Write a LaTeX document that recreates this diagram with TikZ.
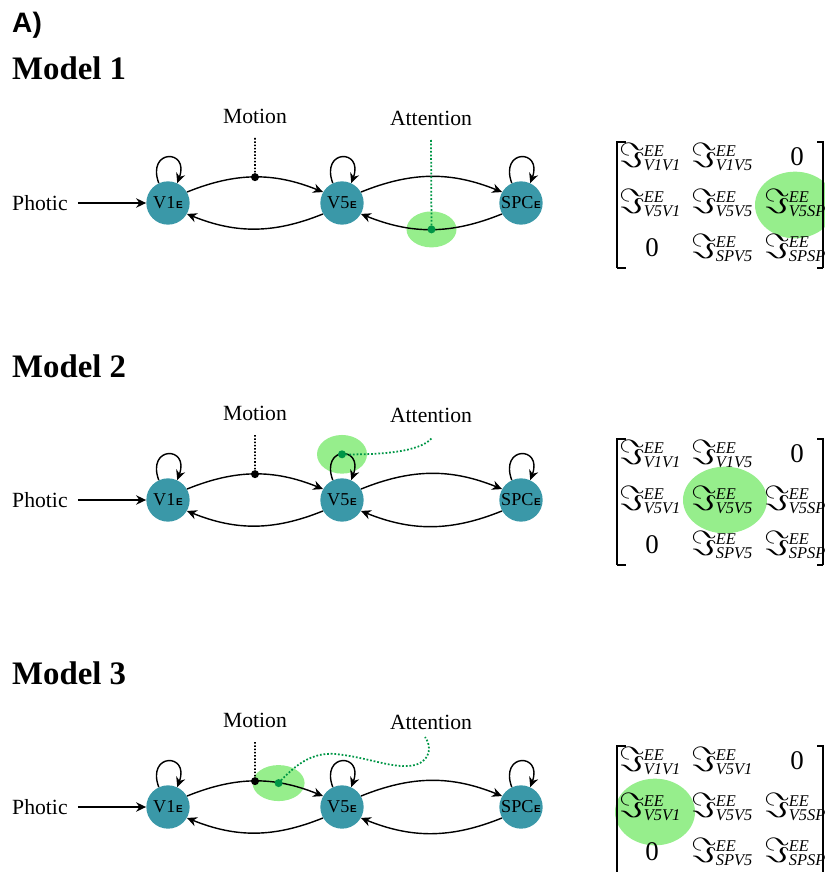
\documentclass[tikz,border=0pt]{standalone}
\usepackage{amsmath}
\usepackage{fontspec}
\setmainfont{Liberation Serif}
\setsansfont{Liberation Sans}
\usetikzlibrary{arrows.meta}
\pgfdeclarelayer{background}
\pgfsetlayers{background,main}
\definecolor{areafill}{RGB}{58,152,168}
\definecolor{glowgreen}{RGB}{150,238,140}
\definecolor{dotgreen}{RGB}{0,150,70}
\newcommand\Esub{\kern0.6pt{\sffamily\bfseries\fontsize{8.5}{8.5}\selectfont E}}
\newcommand\ssz{\fontsize{14}{14}\selectfont\itshape}
\newcommand\Ient[1]{\scalebox{1.2}{$\Im$}\kern-1pt\rlap{\raisebox{9.5pt}{\ssz EE}}\raisebox{-3pt}{\ssz #1}}
\tikzset{
 area/.style={circle,fill=areafill,minimum size=1.3cm,inner sep=0pt,font=\fontsize{15.5}{16}\selectfont},
 lab/.style={font=\fontsize{18.5}{20}\selectfont,inner sep=0pt},
 conn/.style={line width=1.2pt,-{Stealth[length=8.5pt,width=8pt]}},
 motdot/.style={line width=1.3pt,dash pattern=on 1.3pt off 1.5pt},
 attdot/.style={line width=1.5pt,dash pattern=on 1.5pt off 1.6pt,dotgreen},
 glow/.style={fill=glowgreen},
 ent/.style={inner sep=0pt,font=\fontsize{23}{26}\selectfont},
 bracket/.style={line width=1.2pt},
 modeltitle/.style={font=\bfseries\fontsize{28}{30}\selectfont,anchor=base west,inner sep=0pt}
}
\newcommand\drawnet[2]{%
\begin{scope}[shift={(0,#2)}]
\node[modeltitle] (title#1) at (12,-80) {Model #1};
\node[lab,anchor=west] (photic#1) at (12,-203) {Photic};
\node[area] (va#1) at (168,-203) {V1\Esub};
\node[area] (vb#1) at (342,-203) {V5\Esub};
\node[area] (sp#1) at (521,-203) {SPC\Esub};
\node[lab] (motion#1) at (255,-116) {Motion};
\node[lab] (attn#1) at (431,-118) {Attention};
\coordinate (mtop#1) at (255,-138);
\draw[conn,line width=1.7pt,shorten <=0.3cm] (photic#1) -- (va#1);
\draw[conn] (va#1.115) .. controls +(110:1.1cm) and +(70:1.1cm) .. (va#1.65);
\draw[conn] (vb#1.115) .. controls +(110:1.1cm) and +(70:1.1cm) .. coordinate[pos=0.5] (lpb#1) (vb#1.65);
\draw[conn] (sp#1.115) .. controls +(110:1.1cm) and +(70:1.1cm) .. (sp#1.65);
\draw[conn] (va#1.30) to[out=22,in=158] coordinate[pos=0.5] (mot#1) coordinate[pos=0.68] (up#1) (vb#1.150);
\draw[conn] (vb#1.210) to[out=202,in=-22] (va#1.330);
\draw[conn] (vb#1.30) to[out=22,in=158] (sp#1.150);
\draw[conn] (sp#1.210) to[out=202,in=-22] coordinate[pos=0.5] (low#1) (vb#1.330);
\draw[motdot] (mtop#1) -- (mot#1);
\fill (mot#1) circle[radius=0.12cm];
\end{scope}}
\newcommand\drawmat[3]{%
\begin{scope}[shift={(0,#2)}]
\node[ent] (m#1a) at (650,-157) {\Ient{V1V1}};
\node[ent] (m#1b) at (722,-157) {\Ient{#3}};
\node[ent] (m#1c) at (797,-157) {0};
\node[ent] (m#1d) at (650,-203) {\Ient{V5V1}};
\node[ent] (m#1e) at (722,-203) {\Ient{V5V5}};
\node[ent] (m#1f) at (795,-203) {\Ient{V5SP}};
\node[ent] (m#1g) at (652,-248) {0};
\node[ent] (m#1h) at (722,-248) {\Ient{SPV5}};
\node[ent] (m#1i) at (795,-248) {\Ient{SPSP}};
\draw[bracket] (626,-142) -- (617,-142) -- (617,-268);
\draw[bracket] (817,-142) -- (823,-142) -- (823,-268);
\end{scope}}
\begin{document}
\begin{tikzpicture}[x=0.03cm,y=0.03cm]
\useasboundingbox (0,0) rectangle (825,-874);
\node[font=\sffamily\bfseries\fontsize{24}{26}\selectfont,anchor=base west,inner sep=0pt] (A) at (12,-33) {A)};
% matrix highlights
\begin{pgfonlayer}{background}
\fill[glow] (795,-205) ellipse[x radius=1.2cm,y radius=1.0cm];
\fill[glow] (725,-500) ellipse[x radius=1.26cm,y radius=1.0cm];
\fill[glow] (655,-812) ellipse[x radius=1.2cm,y radius=1.0cm];
\end{pgfonlayer}
\drawnet{1}{0}
\drawnet{2}{-297}
\drawnet{3}{-604}
\drawmat{1}{0}{V1V5}
\drawmat{2}{-297}{V1V5}
\drawmat{3}{-604}{V5V1}
\draw[bracket] (617,-268) -- (626,-268);
\draw[bracket] (823,-268) -- (817,-268);
\draw[bracket] (617,-565) -- (626,-565);
\draw[bracket] (823,-565) -- (817,-565);
% attention highlights
\coordinate (atop1) at (431,-140);
\begin{pgfonlayer}{background}
\fill[glow] (low1) ellipse[x radius=0.75cm,y radius=0.54cm];
\fill[glow] (lpb2) ellipse[x radius=0.75cm,y radius=0.58cm];
\fill[glow] (up3) ellipse[x radius=0.78cm,y radius=0.54cm];
\end{pgfonlayer}
\draw[attdot] (atop1) -- (low1);
\fill[dotgreen] (low1) circle[radius=0.12cm];
% Model 2 attention
\coordinate (atop2) at (432,-438);
\draw[attdot] (lpb2) .. controls (380,-455) and (420,-452) .. (atop2);
\fill[dotgreen] (lpb2) circle[radius=0.12cm];
% Model 3 attention
\coordinate (atop3) at (425,-737);
\draw[attdot] (up3) .. controls (295,-765) and (312,-752) .. (335,-754) .. controls (368,-757) and (395,-770) .. (415,-765) .. controls (432,-760) and (431,-745) .. (atop3);
\fill[dotgreen] (up3) circle[radius=0.12cm];
\end{tikzpicture}
\end{document}
